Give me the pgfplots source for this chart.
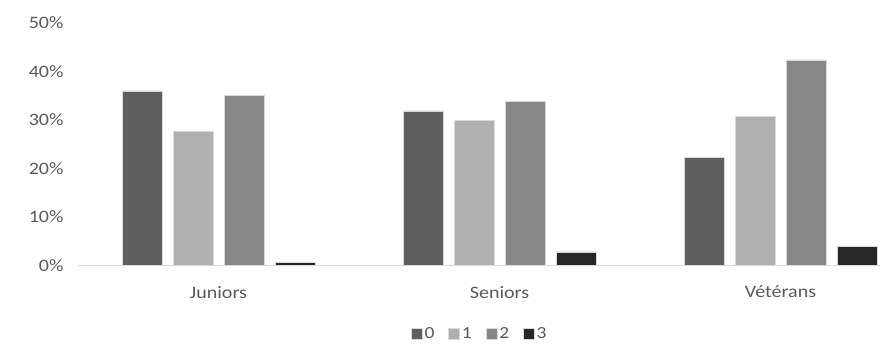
\documentclass[border=0pt]{standalone}
\usepackage{pgfplots}
\pgfplotsset{compat=1.18}
\usepackage{fontspec}
\setmainfont{Carlito}[FakeStretch=1.15]
\definecolor{txt}{HTML}{595959}
\definecolor{cA}{HTML}{5F5F5F}
\definecolor{cB}{HTML}{B0B0B0}
\definecolor{cC}{HTML}{878787}
\definecolor{cD}{HTML}{272727}
\definecolor{axl}{HTML}{D9D9D9}
\begin{document}
\begin{tikzpicture}
\begin{axis}[
  at={(0,0)}, anchor=south west,
  scale only axis, width=802bp, height=242.5bp,
  xmin=-0.5, xmax=2.354, ymin=0, ymax=50,
  ybar=11bp, bar width=40bp,
  axis x line*=bottom, axis y line*=left,
  x axis line style={axl, line width=1pt, -},
  y axis line style={draw=none},
  xtick={0,1,2}, xticklabels={Juniors,Seniors,V\'et\'erans},
  ytick={0,10,20,30,40,50},
  major tick length=0pt,
  yticklabel={\pgfmathprintnumber{\tick}\%},
  /pgf/number format/assume math mode=true,
  tick label style={font=\fontsize{17.5}{20}\selectfont, text=txt},
  xticklabel style={yshift=-17bp},
  yticklabel style={xshift=-11bp},
  legend style={at={(0.501,-0.283)}, anchor=center, draw=none, legend columns=4,
    font=\fontsize{17}{19}\selectfont, text=txt,
    inner sep=1bp,
    /tikz/every even column/.append style={column sep=12bp},
    /tikz/every odd column/.append style={column sep=0bp}},
  legend image code/.code={\fill (0bp,-5.5bp) rectangle (11bp,5.5bp);},
  every axis plot/.append style={draw=white!85!black, line width=0.5pt},
]
\addplot[fill=cA] coordinates {(0,36.0) (1,31.9) (2,22.3)};
\addplot[fill=cB] coordinates {(0,27.7) (1,29.9) (2,30.8)};
\addplot[fill=cC] coordinates {(0,35.1) (1,33.9) (2,42.4)};
\addplot[fill=cD] coordinates {(0,0.7) (1,2.8) (2,4.0)};
\legend{0,1,2,3}
\end{axis}
\pgfresetboundingbox
\path (-78bp,-78.5bp) rectangle (809bp,265.5bp);
\end{tikzpicture}
\end{document}
